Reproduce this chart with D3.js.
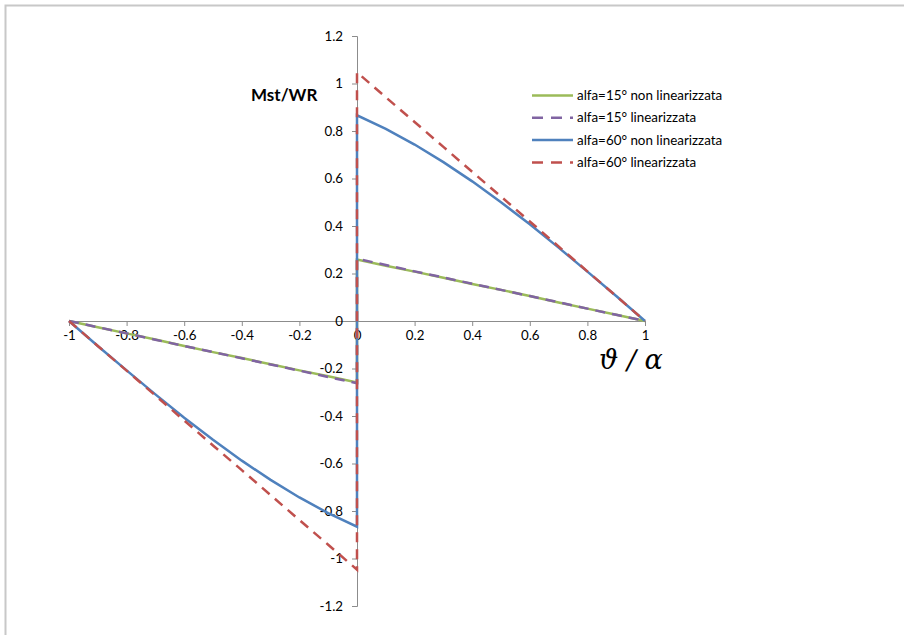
<!DOCTYPE html>
<html>
<head>
<meta charset="utf-8">
<script src="https://cdn.jsdelivr.net/npm/d3@7"></script>
<style>
  html, body { margin: 0; padding: 0; background: #fff; }
  svg { display: block; }
</style>
</head>
<body>
<svg id="chart" width="904" height="635"></svg>
<script>
// Abscissa θ/α (0 appears twice: the curves jump vertically at the origin)
const thetaPos = [0, 0.1, 0.2, 0.3, 0.4, 0.5, 0.6, 0.7, 0.8, 0.9, 1];

// Mst/WR for θ/α >= 0; the negative half is the odd mirror image
const alfa15NonLin = [0.259, 0.233, 0.208, 0.182, 0.156, 0.131, 0.105, 0.078, 0.052, 0.026, 0];
const alfa15Lin    = [0.262, 0.236, 0.209, 0.183, 0.157, 0.131, 0.105, 0.079, 0.052, 0.026, 0];
const alfa60NonLin = [0.866, 0.809, 0.743, 0.669, 0.588, 0.500, 0.407, 0.309, 0.208, 0.105, 0];
const alfa60Lin    = [1.047, 0.942, 0.838, 0.733, 0.628, 0.524, 0.419, 0.314, 0.209, 0.105, 0];

const seriesNames = [
  "alfa=15° non linearizzata",
  "alfa=15° linearizzata",
  "alfa=60° non linearizzata",
  "alfa=60° linearizzata"
];
const seriesValues = [alfa15NonLin, alfa15Lin, alfa60NonLin, alfa60Lin];
const seriesColors = ["#9BBB59", "#8064A2", "#4F81BD", "#C0504D"];
const seriesDashed = [false, true, false, true];

const xTicks = [-1, -0.8, -0.6, -0.4, -0.2, 0, 0.2, 0.4, 0.6, 0.8, 1];
const yTicks = [-1.2, -1, -0.8, -0.6, -0.4, -0.2, 0, 0.2, 0.4, 0.6, 0.8, 1, 1.2];

const svg = d3.select("#chart");
const font = "Lato, 'Open Sans', 'Liberation Sans', sans-serif";
const fmt = d => String(+d.toFixed(1));   // plain hyphen for negatives

// outer frame (top and left edges)
svg.append("path")
  .attr("d", "M5.5,635 L5.5,5.5 L904,5.5")
  .attr("fill", "none").attr("stroke", "#c8c8c8").attr("stroke-width", 2);

const x = d3.scaleLinear().domain([-1, 1]).range([69, 645]);
const y = d3.scaleLinear().domain([-1.2, 1.2]).range([606, 36]);

// x axis through y = 0
const xAxis = svg.append("g")
  .attr("transform", `translate(0,${y(0)})`)
  .call(d3.axisBottom(x).tickValues(xTicks).tickSize(5).tickPadding(5).tickFormat(fmt));
// y axis through x = 0
const yAxis = svg.append("g")
  .attr("transform", `translate(${x(0)},0)`)
  .call(d3.axisLeft(y).tickValues(yTicks).tickSize(5).tickPadding(9).tickFormat(fmt));

[xAxis, yAxis].forEach(g => {
  g.select(".domain").attr("stroke", "#8c8c8c").attr("stroke-width", 1);
  g.selectAll(".tick line").attr("stroke", "#8c8c8c");
  g.selectAll(".tick text").attr("fill", "#000").attr("font-size", 13.3).attr("font-family", font);
});

// build full polyline: (-1,0) … (0,-v0) | (0,v0) … (1,0)
function fullSeries(vals) {
  const neg = thetaPos.map((t, i) => [-t, -vals[i]]).reverse();
  const pos = thetaPos.map((t, i) => [t, vals[i]]);
  return neg.concat(pos);
}

const line = d3.line().x(d => x(d[0])).y(d => y(d[1]));

seriesValues.forEach((vals, i) => {
  svg.append("path")
    .datum(fullSeries(vals))
    .attr("d", line)
    .attr("fill", "none")
    .attr("stroke", seriesColors[i])
    .attr("stroke-width", 2.5)
    .attr("stroke-dasharray", seriesDashed[i] ? "10,7" : null);
});

// axis titles
svg.append("text")
  .attr("x", 251).attr("y", 101)
  .attr("font-family", font).attr("font-weight", "bold").attr("font-size", 17)
  .text("Mst/WR");

svg.append("text")
  .attr("x", 599).attr("y", 369)
  .attr("font-family", "'DejaVu Serif', 'Liberation Serif', serif")
  .attr("font-style", "italic").attr("font-size", 27)
  .text("ϑ ∕ α");

// legend
const legend = svg.append("g");
seriesNames.forEach((name, i) => {
  const ly = 95.5 + i * 22.3;
  legend.append("line")
    .attr("x1", 532).attr("x2", 573).attr("y1", ly).attr("y2", ly)
    .attr("stroke", seriesColors[i]).attr("stroke-width", 2.5)
    .attr("stroke-dasharray", seriesDashed[i] ? "11,8" : null);
  legend.append("text")
    .attr("x", 577).attr("y", ly).attr("dy", "0.35em")
    .attr("font-family", font).attr("font-size", 13.4)
    .text(name);
});
</script>
</body>
</html>
